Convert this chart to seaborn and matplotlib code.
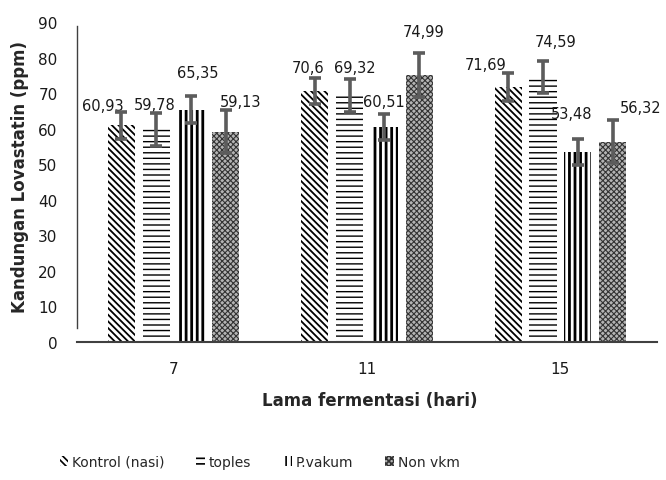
import pandas as pd
import seaborn as sns
import matplotlib.pyplot as plt
from matplotlib.patches import Patch

# -------- DATA --------
days = ["7", "11", "15"]
treatments = ["Kontrol (nasi)", "toples", "P.vakum", "Non vkm"]

kontrol = [60.93, 70.60, 71.69]
toples = [59.78, 69.32, 74.59]
p_vakum = [65.35, 60.51, 53.48]
non_vkm = [59.13, 74.99, 56.32]

err_kontrol = [3.8, 3.7, 3.85]
err_toples = [4.6, 4.6, 4.55]
err_p_vakum = [3.85, 3.7, 3.65]
err_non_vkm = [6.1, 6.2, 6.1]

values = [kontrol, toples, p_vakum, non_vkm]
errors = [err_kontrol, err_toples, err_p_vakum, err_non_vkm]

rows = []
for t, vals, errs in zip(treatments, values, errors):
    for d, v, e in zip(days, vals, errs):
        rows.append({"hari": d, "perlakuan": t, "lovastatin": v, "err": e})
df = pd.DataFrame(rows)

# -------- STYLE --------
sns.set_style("white")
plt.rcParams["font.family"] = ["DejaVu Sans"]
plt.rcParams["hatch.linewidth"] = 1.2

hatches = ["\\\\\\\\\\", "---", "|||", "xxxxxx"]
hatch_lw = [1.3, 1.0, 2.0, 0.8]
faces = ["white", "white", "white", "#b4b4b4"]
edges = ["black", "black", "black", "#333333"]

# label offsets in pixels (dx, dy) from bar top centre, per treatment x day
label_offsets = [
    [(-19, 20), (-7, 23), (-23, 23)],
    [(-2, 25), (5, 28), (13, 35)],
    [(7, 37), (-1, 25), (-6, 38)],
    [(15, 30), (4, 44), (28, 34)],
]


def style_patch(p, i):
    p.set_facecolor(faces[i])
    p.set_edgecolor(edges[i])
    p.set_hatch(hatches[i])
    p.set_linewidth(0)
    if hasattr(p, "set_hatch_linewidth"):
        p.set_hatch_linewidth(hatch_lw[i])


# -------- PLOT --------
fig = plt.figure(figsize=(6.66, 4.81), dpi=100)
ax = fig.add_axes([77 / 666, 1 - 343 / 481, 580 / 666, 320 / 481])

sns.barplot(
    data=df, x="hari", y="lovastatin", hue="perlakuan",
    order=days, hue_order=treatments,
    errorbar=None, width=0.72, gap=0.22,
    palette=["white"] * 4, legend=False, ax=ax,
)

bar_containers = list(ax.containers)
for i, cont in enumerate(bar_containers):
    xs, ys = [], []
    for j, bar in enumerate(cont):
        style_patch(bar, i)
        cx = bar.get_x() + bar.get_width() / 2
        h = bar.get_height()
        xs.append(cx)
        ys.append(h)
        dx, dy = label_offsets[i][j]
        ax.annotate(f"{h:g}".replace(".", ","), (cx, h),
                    xytext=(dx, dy), textcoords="offset pixels",
                    ha="center", va="center", fontsize=10.5, color="#1a1a1a")
    ax.errorbar(xs, ys, yerr=errors[i], fmt="none", ecolor="#5c5c5c",
                elinewidth=2.6, capsize=4, capthick=2.6, zorder=5)

ax.set_ylim(0, 90)
ax.set_xlim(-0.5, 2.5)
ax.set_yticks(range(0, 91, 10))
ax.tick_params(axis="both", length=0, labelsize=11, colors="#1a1a1a")
ax.tick_params(axis="y", pad=14)
ax.tick_params(axis="x", pad=14)

for s in ["top", "right"]:
    ax.spines[s].set_visible(False)
ax.spines["left"].set_bounds(4, 89)
ax.spines["left"].set_color("#404040")
ax.spines["left"].set_linewidth(1.0)
ax.spines["bottom"].set_color("#404040")
ax.spines["bottom"].set_linewidth(1.5)

ax.set_ylabel("Kandungan Lovastatin (ppm)", fontsize=12, fontweight="bold")
ax.set_xlabel("Lama fermentasi (hari)", fontsize=12, fontweight="bold")
ax.yaxis.set_label_coords(-0.083, 0.52)
ax.xaxis.set_label_coords(0.505, -0.152)

handles = []
for i in range(4):
    hp = Patch(label=treatments[i])
    style_patch(hp, i)
    handles.append(hp)
fig.legend(handles=handles, loc="center left", bbox_to_anchor=(47 / 666, 1 - 463 / 481),
           ncol=4, frameon=False, fontsize=10, handlelength=0.6, handleheight=0.8,
           handletextpad=0.3, columnspacing=2.3)

fig.savefig("out.png", dpi=100)
